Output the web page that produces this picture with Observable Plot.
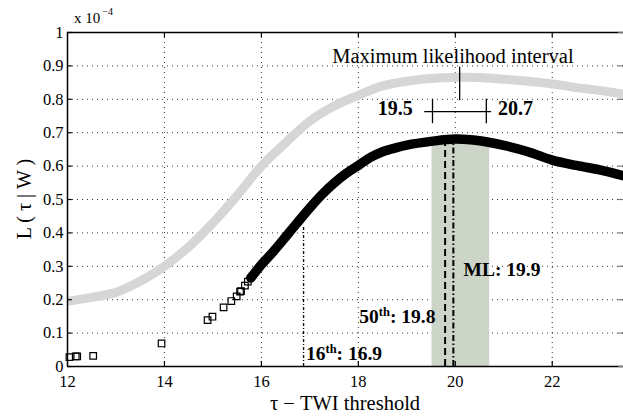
<!DOCTYPE html>
<html><head><meta charset="utf-8">
<script src="https://cdn.jsdelivr.net/npm/d3@7"></script>
<script src="https://cdn.jsdelivr.net/npm/@observablehq/plot@0.6"></script>
<style>
body{margin:0;background:#fff;}
#chart svg{font-family:"Liberation Serif","Times New Roman",serif;}
</style></head><body><div id="chart"></div>
<script>
// ---- data ----
const grayX = [12.0,12.5,13.0,13.5,14.0,14.5,15.0,15.5,16.0,16.5,17.0,17.5,18.0,18.5,19.0,19.5,20.0,20.5,21.0,21.5,22.0,22.5,23.0,23.5];
const grayY = [0.195,0.207,0.222,0.255,0.300,0.358,0.430,0.512,0.600,0.670,0.735,0.780,0.812,0.840,0.854,0.862,0.866,0.865,0.860,0.854,0.846,0.835,0.826,0.815];
const blackX = [15.78,16.0,16.25,16.5,16.75,17.0,17.25,17.5,17.75,18.0,18.25,18.5,18.75,19.0,19.5,20.0,20.5,21.0,21.5,22.0,22.5,23.0,23.5];
const blackY = [0.265,0.305,0.345,0.388,0.432,0.475,0.515,0.549,0.578,0.602,0.626,0.643,0.654,0.663,0.674,0.681,0.676,0.662,0.643,0.618,0.602,0.588,0.570];
const sparseX = [12.04,12.17,12.20,12.53,13.94,14.89,14.99,15.22,15.38,15.49,15.56,15.58,15.66,15.72];
const sparseY = [0.028,0.030,0.030,0.032,0.069,0.139,0.149,0.177,0.196,0.210,0.224,0.226,0.242,0.254];
const xTicks = [12,14,16,18,20,22];
const yTicks = [0,0.1,0.2,0.3,0.4,0.5,0.6,0.7,0.8,0.9,1];
const yTickLabels = ["0","0.1","0.2","0.3","0.4","0.5","0.6","0.7","0.8","0.9","1"];
const xDomain = [12, 23.47];
// shaded maximum-likelihood interval and percentile lines
const mlInterval = [19.52, 20.71];
const mlBandTop = 0.672;
const p16 = 16.87, p16Top = 0.42;
const p50 = 19.79, mlX = 19.96, lineTop = 0.672;
// interval annotation ("+—+" with stem)
const barX = [19.37, 20.75], barY = 0.763;
const barTicks = [19.53, 20.64], barTickY = [0.727, 0.80];
const stemX = 20.09, stemY = [0.796, 0.896];
const annTitle = "Maximum likelihood interval";
const annLo = "19.5", annHi = "20.7";
const mlLabel = "ML: 19.9";
const pctLabels = [
  {num:"16", sup:"th", rest:": 16.9", x:16.93, y:0.018},
  {num:"50", sup:"th", rest:": 19.8", x:18.03, y:0.128}
];
const xTitle = "τ − TWI threshold";
const yTitle = "L ( τ | W )";

const gray = grayX.map((x,i)=>({x, y:grayY[i]}));
const black = blackX.map((x,i)=>({x, y:blackY[i]}));
const sparse = sparseX.map((x,i)=>({x, y:sparseY[i]}));

const plot = Plot.plot({
  width: 623, height: 416,
  marginLeft: 67, marginRight: 0, marginTop: 32, marginBottom: 50,
  style: {fontFamily: "Liberation Serif, Times New Roman, serif", background: "#fff"},
  x: {domain: xDomain, label: null},
  y: {domain: [0, 1], label: null},
  marks: [
    // dotted grid
    Plot.ruleX(xTicks.slice(1), {x: d=>d, stroke:"#000", strokeOpacity:0.8, strokeDasharray:"1,4", strokeWidth:1}),
    Plot.ruleY(yTicks.slice(1,-1), {y: d=>d, stroke:"#000", strokeOpacity:0.8, strokeDasharray:"1,4", strokeWidth:1}),
    // shaded interval
    Plot.rect([0], {x1: mlInterval[0], x2: mlInterval[1], y1: 0, y2: mlBandTop, fill:"#cdd5c9"}),
    // percentile lines
    Plot.ruleX([p16], {x: d=>d, y1: 0, y2: p16Top, stroke:"#000", strokeWidth:1.3, strokeDasharray:"3,2,1,2"}),
    Plot.ruleX([p50], {x: d=>d, y1: 0, y2: lineTop, stroke:"#000", strokeWidth:2, strokeDasharray:"7,4"}),
    Plot.ruleX([mlX], {x: d=>d, y1: 0, y2: lineTop, stroke:"#000", strokeWidth:2, strokeDasharray:"6,2.5,1.5,2.5"}),
    // curves
    Plot.line(gray, {x:"x", y:"y", stroke:"#d6d6d6", strokeWidth:9, curve:"catmull-rom", clip:true}),
    Plot.line(black, {x:"x", y:"y", stroke:"#000", strokeWidth:9.5, curve:"catmull-rom", clip:true}),
    Plot.dot(sparse, {x:"x", y:"y", symbol:"square", r:3.7, stroke:"#000", strokeWidth:1.2, fill:"none"}),
    // interval annotation
    Plot.ruleY([barY], {y: d=>d, x1: barX[0], x2: barX[1], stroke:"#000", strokeWidth:1.3}),
    Plot.ruleX(barTicks, {x: d=>d, y1: barTickY[0], y2: barTickY[1], stroke:"#000", strokeWidth:1.3}),
    Plot.ruleX([stemX], {x: d=>d, y1: stemY[0], y2: stemY[1], stroke:"#000", strokeWidth:1.3}),
    Plot.text([annTitle], {x: 19.95, y: 0.929, text: d=>d, fontSize: 20.5, textAnchor:"middle", fill:"#000"}),
    Plot.text([annLo], {x: 19.12, y: 0.771, text: d=>d, fontSize: 20, fontWeight:"bold", textAnchor:"end", fill:"#000"}),
    Plot.text([annHi], {x: 20.88, y: 0.771, text: d=>d, fontSize: 20, fontWeight:"bold", textAnchor:"start", fill:"#000"}),
    Plot.text([mlLabel], {x: 20.17, y: 0.291, text: d=>d, fontSize: 19.5, fontWeight:"bold", textAnchor:"start", fill:"#000"}),
    // box and inward ticks
    Plot.ruleX([12], {x: d=>d, stroke:"#000", strokeWidth:1.5}),
    Plot.ruleY([0, 1], {y: d=>d, stroke:"#000", strokeWidth:1.5}),
    Plot.ruleX(xTicks.slice(1), {x: d=>d, y1: 0, y2: 0.015, stroke:"#000", strokeWidth:1.2}),
    Plot.ruleX(xTicks.slice(1), {x: d=>d, y1: 0.985, y2: 1, stroke:"#000", strokeWidth:1.2}),
    Plot.ruleY(yTicks, {y: d=>d, x1: 12, x2: 12.1, stroke:"#000", strokeWidth:1.2}),
    Plot.ruleY(yTicks, {y: d=>d, x1: 23.37, x2: 23.47, stroke:"#777", strokeWidth:1.2}),
    // tick labels
    Plot.axisX(xTicks, {tickSize: 0, tickPadding: 9, fontSize: 16.5, label: null, tickFormat: d => String(d)}),
    Plot.axisY(yTicks, {tickSize: 0, tickPadding: 4, fontSize: 16.5, label: null, tickFormat: d => yTickLabels[yTicks.indexOf(d)]})
  ]
});

const sx = plot.scale("x"), sy = plot.scale("y");
const svg = d3.select(plot);
const font = "Liberation Serif, Times New Roman, serif";

// percentile labels with superscripts
pctLabels.forEach(p => {
  const t = svg.append("text")
    .attr("x", sx.apply(p.x)).attr("y", sy.apply(p.y))
    .attr("text-anchor", "start")
    .attr("font-family", font).attr("font-size", 19.5).attr("font-weight", "bold").attr("fill", "#000");
  t.append("tspan").text(p.num);
  t.append("tspan").attr("font-size", 12.5).attr("dy", -7).text(p.sup);
  t.append("tspan").attr("dy", 7).text(p.rest);
});

// exponent label
const ex = svg.append("text")
  .attr("x", sx.apply(xDomain[0]) + 7).attr("y", sy.apply(1) - 9)
  .attr("text-anchor", "start")
  .attr("font-family", font).attr("font-size", 15).attr("fill", "#000");
ex.append("tspan").text("x 10");
ex.append("tspan").attr("font-size", 10).attr("dy", -8).attr("dx", 2).text("−4");

// axis titles
const [r0, r1] = sx.range;
svg.append("text")
  .attr("x", (r0 + r1) / 2).attr("y", 410)
  .attr("text-anchor", "middle")
  .attr("font-family", font).attr("font-size", 20.5).attr("fill", "#000")
  .text(xTitle);
const [yr0, yr1] = sy.range;
svg.append("text")
  .attr("transform", `translate(31,${(yr0 + yr1) / 2}) rotate(-90)`)
  .attr("text-anchor", "middle")
  .attr("font-family", font).attr("font-size", 20).attr("fill", "#000")
  .text(yTitle);

document.getElementById("chart").appendChild(plot);
</script>
</body></html>
